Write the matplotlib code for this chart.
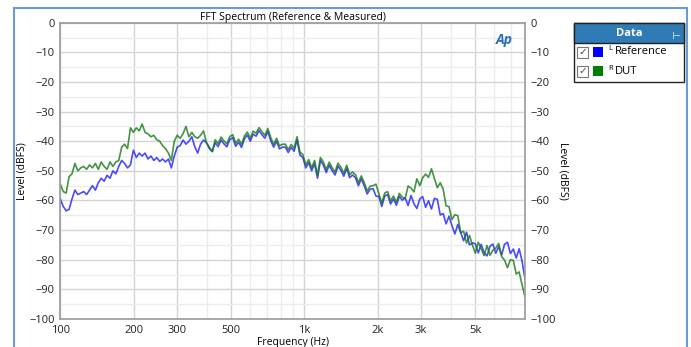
import numpy as np
import matplotlib
matplotlib.use('Agg')
import matplotlib.pyplot as plt
from matplotlib.patches import Rectangle
from matplotlib.lines import Line2D

plt.rcParams['font.family'] = ['Open Sans', 'DejaVu Sans']

W, H = 691, 347

# frequency grid of the trace (Hz)
freq = np.geomspace(100, 8000, 160)

reference = [
    -59.5, -62.0, -63.5, -63.0, -59.5, -56.5, -58.0, -57.5, -57.0, -58.0,
    -56.5, -55.0, -56.5, -54.0, -52.5, -53.5, -51.5, -52.5, -50.0, -51.0,
    -48.5, -46.5, -47.5, -49.0, -48.0, -43.0, -45.5, -44.0, -45.0, -44.0,
    -46.0, -45.0, -46.5, -45.5, -46.8, -46.0, -47.0, -46.0, -49.0, -45.0,
    -42.0, -41.5, -39.6, -41.0, -40.0, -38.5, -41.8, -44.0, -41.0, -39.6,
    -40.5, -42.5, -43.5, -40.5, -41.8, -39.6, -40.9, -41.9, -39.4, -38.8,
    -41.7, -40.3, -42.1, -39.2, -37.9, -40.0, -37.6, -38.3, -36.4, -37.8,
    -39.0, -36.7, -39.8, -42.0, -40.0, -42.6, -42.0, -42.0, -43.8, -42.1,
    -43.4, -39.5, -44.7, -45.5, -49.0, -47.2, -50.0, -47.5, -52.5, -46.5,
    -48.0, -50.6, -48.1, -49.9, -51.4, -48.4, -49.8, -51.8, -49.1, -52.3,
    -51.4, -52.3, -55.0, -52.7, -55.0, -57.8, -56.2, -56.0, -58.5, -58.7,
    -62.0, -58.5, -58.0, -61.2, -59.5, -61.6, -58.6, -59.9, -59.1, -61.7,
    -58.3, -61.1, -62.7, -59.5, -58.7, -62.3, -60.1, -62.9, -59.3, -59.6,
    -64.9, -64.4, -67.9, -65.3, -68.5, -71.3, -68.1, -70.8, -73.6, -70.7,
    -75.0, -74.3, -74.6, -77.7, -74.8, -77.6, -78.7, -75.5, -74.7, -77.8,
    -75.6, -78.4, -74.8, -74.1, -77.9, -76.4, -79.4, -76.3, -80.5, -86.5,
]

dut = [
    -54.5, -57.0, -57.5, -52.0, -51.0, -47.5, -50.0, -49.0, -48.5, -49.5,
    -48.0, -49.0, -47.5, -49.5, -47.0, -48.5, -49.5, -47.0, -48.5, -47.0,
    -46.5, -42.0, -41.0, -42.5, -35.5, -37.0, -35.5, -36.5, -34.2, -37.0,
    -37.5, -38.5, -38.0, -39.5, -40.0, -41.5, -42.5, -44.0, -46.5, -40.0,
    -38.0, -39.0, -37.5, -35.0, -38.5, -37.0, -38.5, -39.0, -38.0, -36.5,
    -40.5, -42.0, -43.5, -39.5, -40.8, -38.6, -39.9, -40.9, -38.4, -37.8,
    -40.7, -39.3, -41.1, -38.2, -36.9, -39.0, -36.6, -37.3, -35.4, -36.8,
    -38.0, -35.7, -38.8, -41.0, -39.0, -41.6, -41.0, -41.0, -42.8, -41.1,
    -42.4, -38.5, -43.7, -44.5, -48.0, -46.2, -49.0, -46.5, -51.5, -45.5,
    -47.0, -49.6, -47.1, -48.9, -50.4, -47.4, -48.8, -50.8, -48.1, -51.3,
    -50.4, -51.3, -54.0, -51.7, -54.0, -56.8, -55.2, -55.0, -54.5, -57.7,
    -61.0, -57.5, -57.0, -60.2, -58.5, -60.6, -57.6, -58.9, -59.3, -55.1,
    -55.8, -57.1, -52.7, -55.0, -52.3, -51.1, -52.2, -49.3, -52.6, -55.7,
    -54.0, -56.2, -61.8, -62.1, -66.4, -64.8, -65.1, -70.9, -70.4, -74.4,
    -71.8, -75.0, -77.8, -74.1, -76.3, -78.6, -75.2, -78.5, -76.8, -76.1,
    -74.5, -79.0, -80.1, -82.7, -80.0, -80.2, -84.8, -84.1, -88.5, -92.5,
]

xticks = [100, 200, 300, 500, 1000, 2000, 3000, 5000]
xlabels = ['100', '200', '300', '500', '1k', '2k', '3k', '5k']
xminor = [400, 600, 700, 800, 900, 4000, 6000, 7000]
yticks = list(range(0, -101, -10))

fig = plt.figure(figsize=(W / 100, H / 100), dpi=100)
ax = fig.add_axes([60.3 / W, 1 - 319 / H, (525 - 60.3) / W, (319 - 22.7) / H])

ax.plot(freq, reference, color='#2b2bff', lw=1.2, alpha=0.85)
ax.plot(freq, dut, color='#147a14', lw=1.2, alpha=0.8)

ax.set_xscale('log')
ax.set_xlim(100, 8000)
ax.set_ylim(-100, 0)
ax.set_xticks(xticks)
ax.set_xticklabels(xlabels)
ax.set_xticks(xminor, minor=True)
ax.xaxis.set_minor_formatter(matplotlib.ticker.NullFormatter())
ax.set_yticks(yticks)
ax.set_yticks(list(range(-5, -100, -10)), minor=True)
ax.grid(which='major', color='#d4d4d4', lw=1.0)
ax.grid(which='minor', color='#ececec', lw=1.0)
ax.set_axisbelow(True)
ax.tick_params(which='both', length=0, labelsize=8, colors='#222222', pad=4)
for s in ax.spines.values():
    s.set_color('#9a9a9a')
    s.set_linewidth(1.2)

ax.set_ylabel('Level (dBFS)', fontsize=7.5, labelpad=1)
ax.set_xlabel('Frequency (Hz)', fontsize=7.5, labelpad=1)
ax.set_title('FFT Spectrum (Reference & Measured)', fontsize=7.5, pad=2)

ax2 = ax.twinx()
ax2.set_ylim(-100, 0)
ax2.set_yticks(yticks)
ax2.tick_params(length=0, labelsize=8, colors='#222222', pad=4)
for s in ax2.spines.values():
    s.set_visible(False)
ax2.set_ylabel('Level (dBFS)', fontsize=7.5, rotation=270, labelpad=9)

# AP logo
ax.text(0.955, 0.94, 'Ap', transform=ax.transAxes, fontsize=10, fontweight='bold',
        fontstyle='italic', color='#2a6ebb', ha='center', va='center')

# window frame
fc = '#6b9bd2'
fig.add_artist(Line2D([14 / W, 14 / W], [0, 1 - 8 / H], color=fc, lw=1.5, transform=fig.transFigure))
fig.add_artist(Line2D([14 / W, 687 / W], [1 - 8 / H, 1 - 8 / H], color=fc, lw=1.5, transform=fig.transFigure))
fig.add_artist(Line2D([687 / W, 687 / W], [0, 1 - 8 / H], color=fc, lw=1.5, transform=fig.transFigure))

# legend panel
def box(x0, y0, x1, y1, **kw):
    fig.add_artist(Rectangle((x0 / W, 1 - y1 / H), (x1 - x0) / W, (y1 - y0) / H,
                             transform=fig.transFigure, **kw))

box(574, 23, 684, 82, facecolor='white', edgecolor='#222222', lw=1.0)
box(574, 23, 684, 43, facecolor='#2f7bb5', edgecolor='#222222', lw=1.0)
fig.text(629 / W, 1 - 33 / H, 'Data', color='white', fontsize=8, fontweight='bold', ha='center', va='center')
fig.text(676 / W, 1 - 32 / H, '⊣', color='white', fontsize=7, ha='center', va='center', rotation=180)

names = ['Reference', 'DUT']
chans = ['L', 'R']
swatch = ['#0000ff', '#008000']
for k in range(2):
    yc = 52 + k * 19
    box(577, yc - 5.5, 588, yc + 5.5, facecolor='white', edgecolor='#777777', lw=0.8)
    fig.text(582.5 / W, 1 - yc / H, '✓', fontsize=7.5, color='#444444', ha='center', va='center',
             family=['DejaVu Sans'])
    box(593, yc - 5, 603, yc + 5, facecolor=swatch[k], edgecolor='none')
    fig.text(608 / W, 1 - (yc - 3) / H, chans[k], fontsize=5.5, ha='left', va='center')
    fig.text(615 / W, 1 - yc / H, names[k], fontsize=8, ha='left', va='center')

fig.savefig('out.png', dpi=100)
